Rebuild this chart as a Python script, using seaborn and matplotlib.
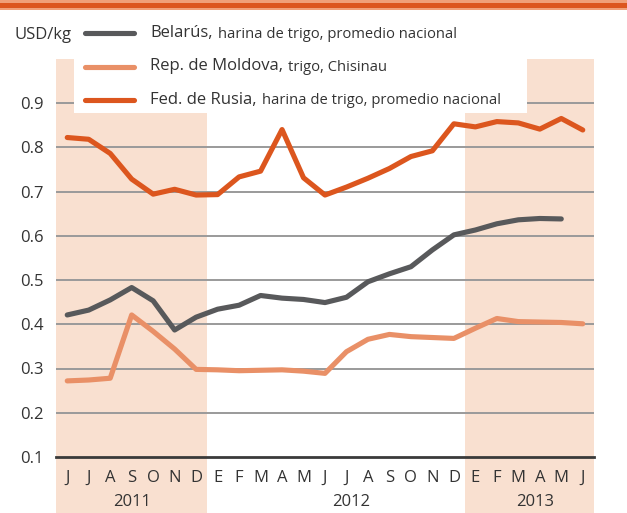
import numpy as np
import pandas as pd
import matplotlib
matplotlib.use("Agg")
import matplotlib.pyplot as plt
from matplotlib.patches import Rectangle
from matplotlib.lines import Line2D
import seaborn as sns

# ---------------- data ----------------
months = ["J", "J", "A", "S", "O", "N", "D",
          "E", "F", "M", "A", "M", "J", "J", "A", "S", "O", "N", "D",
          "E", "F", "M", "A", "M", "J"]
years = ["2011", "2012", "2013"]
belarus = [0.421, 0.432, 0.455, 0.483, 0.453, 0.387, 0.416,
           0.434, 0.443, 0.465, 0.459, 0.456, 0.449, 0.461, 0.496, 0.514, 0.530, 0.568, 0.602,
           0.613, 0.627, 0.636, 0.639, 0.638, np.nan]
moldova = [0.272, 0.274, 0.278, 0.421, 0.384, 0.344, 0.298,
           0.297, 0.295, 0.296, 0.297, 0.294, 0.289, 0.338, 0.366, 0.377, 0.372, 0.370, 0.368,
           0.391, 0.413, 0.406, 0.405, 0.404, 0.401]
russia = [0.822, 0.818, 0.786, 0.728, 0.694, 0.705, 0.692,
          0.693, 0.733, 0.746, 0.840, 0.731, 0.692, 0.710, 0.730, 0.752, 0.779, 0.792, 0.853,
          0.846, 0.858, 0.855, 0.841, 0.865, 0.839]
series_names = ["Belarús,", "Rep. de Moldova,", "Fed. de Rusia,"]
series_desc = ["harina de trigo, promedio nacional", "trigo, Chisinau",
               "harina de trigo, promedio nacional"]
yticks = [0.1, 0.2, 0.3, 0.4, 0.5, 0.6, 0.7, 0.8, 0.9]

colors = ["#58595b", "#e99067", "#dc561e"]
shade = "#f9e0d0"
grid_c = "#9a9a9a"
text_c = "#333333"

idx = np.arange(len(months))
df = pd.DataFrame({"idx": np.concatenate([idx, idx, idx]),
                   "value": belarus + moldova + russia,
                   "series": np.repeat(series_names, len(months))})

sns.set_theme(style="white")
plt.rcParams["font.family"] = ["Open Sans", "DejaVu Sans"]

W, H = 627, 513
fig = plt.figure(figsize=(W / 100, H / 100), dpi=100)
x0, x1 = 56.5, 593.5
y0, y1 = 457.0, 58.75
ax = fig.add_axes([x0 / W, 1 - y0 / H, (x1 - x0) / W, (y0 - y1) / H])
ax.set_xlim(-0.5, 24.5)
ax.set_ylim(0.1, 1.0)

# shaded years (extending below the axis through labels)
for a, b in [(-0.5, 6.5), (18.5, 24.5)]:
    ax.add_patch(Rectangle((a, -0.14), b - a, 1.14, transform=ax.get_xaxis_transform(),
                           facecolor=shade, edgecolor="none", clip_on=False, zorder=0))

for yv in yticks[1:]:
    ax.axhline(yv, color=grid_c, lw=1.4, zorder=1)

sns.lineplot(data=df, x="idx", y="value", hue="series", palette=colors,
             hue_order=series_names, linewidth=3.7, legend=False, ax=ax, zorder=3,
             solid_capstyle="round", solid_joinstyle="round")

for s in ["top", "right", "left"]:
    ax.spines[s].set_visible(False)
ax.spines["bottom"].set_color("#3a3a3a")
ax.spines["bottom"].set_linewidth(2.0)
ax.spines["bottom"].set_zorder(4)

ax.set_xticks(idx)
ax.set_xticklabels(months, fontsize=12, color=text_c)
ax.tick_params(axis="x", direction="in", length=6, width=1.6, color="#3a3a3a", pad=9)
ax.set_yticks(yticks)
ax.set_yticklabels([f"{v:.1f}" for v in yticks], fontsize=12, color=text_c)
ax.tick_params(axis="y", length=0, pad=9)
ax.set_xlabel("")
ax.set_ylabel("")

year_pos = [3.0, 13.2, 21.8]
for yp, yl in zip(year_pos, years):
    ax.text(yp, -0.113, yl, transform=ax.get_xaxis_transform(), ha="center", va="center",
            fontsize=12, color=text_c)

# top band
fig.patches.append(Rectangle((0, 1 - 9.7 / H), 1, 9.7 / H, transform=fig.transFigure,
                             facecolor="#f0a078", edgecolor="none", zorder=5))
fig.patches.append(Rectangle((0, 1 - 8.3 / H), 1, 5.0 / H, transform=fig.transFigure,
                             facecolor="#dc561e", edgecolor="none", zorder=6))

# legend box
fig.patches.append(Rectangle((74 / W, 1 - 113 / H), (527 - 74) / W, (113 - 12) / H,
                             transform=fig.transFigure, facecolor="white",
                             edgecolor="none", zorder=5))
fig.text(14 / W, 1 - 35 / H, "USD/kg", fontsize=12, color=text_c, va="center", ha="left",
         zorder=7)
leg_y = [33, 66.5, 100]
renderer = fig.canvas.get_renderer()
for c, nm, ds, yy in zip(colors, series_names, series_desc, leg_y):
    fig.lines.append(Line2D([85 / W, 134 / W], [1 - yy / H, 1 - yy / H],
                            transform=fig.transFigure, color=c, lw=3.7,
                            solid_capstyle="round", zorder=7))
    t = fig.text(150 / W, 1 - yy / H, nm, fontsize=12, color=text_c, va="center",
                 ha="left", zorder=7)
    bb = t.get_window_extent(renderer=renderer)
    fig.text((bb.x1 + 5) / W, 1 - (yy + 1) / H, ds, fontsize=10.6, color=text_c,
             va="center", ha="left", zorder=7)

fig.savefig("out.png", dpi=100)
